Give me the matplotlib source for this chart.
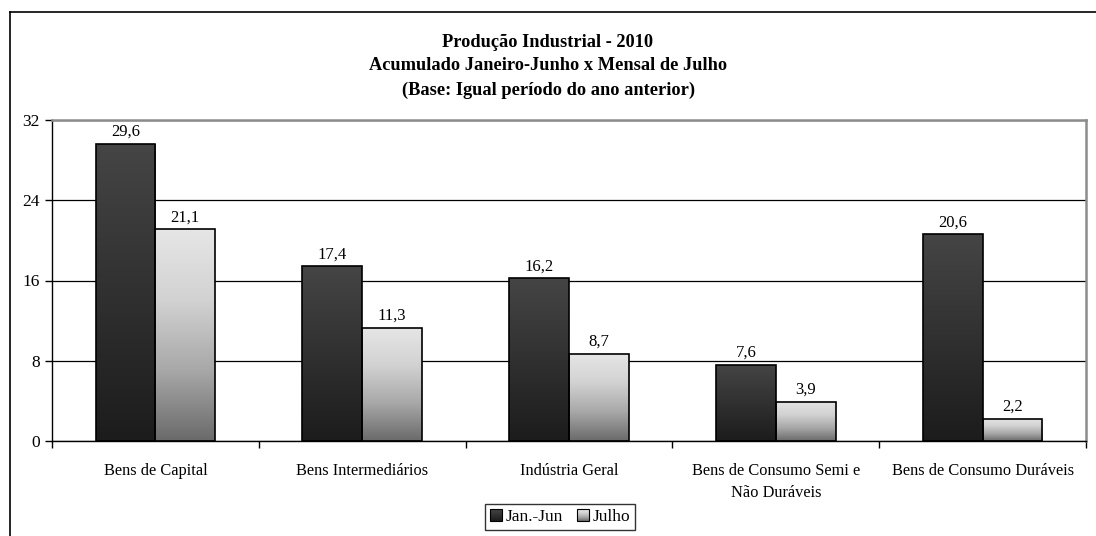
import numpy as np
import matplotlib.pyplot as plt
from matplotlib.patches import Rectangle
from matplotlib.lines import Line2D
from matplotlib.legend_handler import HandlerBase
from matplotlib.colors import LinearSegmentedColormap

plt.rcParams['font.family'] = ['Liberation Serif', 'DejaVu Serif']

categorias = ['Bens de Capital', 'Bens Intermediários', 'Indústria Geral',
              'Bens de Consumo Semi e\nNão Duráveis', 'Bens de Consumo Duráveis']
jan_jun = [29.6, 17.4, 16.2, 7.6, 20.6]
julho = [21.1, 11.3, 8.7, 3.9, 2.2]
series = ['Jan.-Jun', 'Julho']
titulo = ['Produção Industrial - 2010',
          'Acumulado Janeiro-Junho x Mensal de Julho',
          '(Base: Igual período do ano anterior)']
yticks = [0, 8, 16, 24, 32]

# gradientes (topo -> base)
cmap_escuro = LinearSegmentedColormap.from_list('escuro', ['#454545', '#1c1c1c'])
cmap_claro = LinearSegmentedColormap.from_list('claro', ['#e6e6e6', '#d2d2d2', '#a8a8a8', '#6a6a6a'])
cmaps = [cmap_escuro, cmap_claro]


def barras_gradiente(ax, x, valores, largura, cmap):
    barras = ax.bar(x, valores, width=largura, facecolor='none', edgecolor='black',
                    linewidth=1.2, zorder=3)
    grad = np.linspace(0, 1, 256).reshape(-1, 1)
    for b in barras:
        x0, y0 = b.get_x(), b.get_y()
        w, h = b.get_width(), b.get_height()
        im = ax.imshow(grad, cmap=cmap, aspect='auto', origin='upper',
                       extent=[x0, x0 + w, y0, y0 + h], zorder=2)
        im.set_clip_path(b)
    return barras


class HandlerGradiente(HandlerBase):
    def __init__(self, cmap):
        super().__init__()
        self.cmap = cmap

    def create_artists(self, legend, orig_handle, xdescent, ydescent, width, height, fontsize, trans):
        artistas = []
        n = 12
        for i in range(n):
            cor = self.cmap(1 - (i + 0.5) / n)
            artistas.append(Rectangle((-xdescent, -ydescent + height * i / n), width, height / n,
                                      facecolor=cor, edgecolor='none', transform=trans))
        artistas.append(Rectangle((-xdescent, -ydescent), width, height, facecolor='none',
                                  edgecolor='black', linewidth=0.8, transform=trans))
        return artistas


fig = plt.figure(figsize=(10.96, 5.36), dpi=100)
ax = fig.add_axes([52 / 1096, 1 - 441 / 536, 1034 / 1096, 321 / 536])

x = np.arange(len(categorias))
w = 0.289
b1 = barras_gradiente(ax, x - w / 2, jan_jun, w, cmaps[0])
b2 = barras_gradiente(ax, x + w / 2, julho, w, cmaps[1])

for barras, vals in [(b1, jan_jun), (b2, julho)]:
    for b, v in zip(barras, vals):
        ax.annotate(f'{v:.1f}'.replace('.', ','), (b.get_x() + b.get_width() / 2, v),
                    xytext=(0, 3), textcoords='offset points', ha='center', va='bottom',
                    fontsize=12)

ax.set_xlim(-0.5, len(categorias) - 0.5)
ax.set_ylim(0, 32)
ax.set_yticks(yticks)
ax.set_yticklabels([str(t) for t in yticks], fontsize=12.5)
ax.set_xticks(np.arange(len(categorias) + 1) - 0.5)
ax.set_xticklabels([])
ax.set_xticks(x, minor=True)
ax.set_xticklabels(categorias, minor=True, fontsize=11.8, linespacing=1.45,
                   multialignment='center')
ax.tick_params(axis='x', which='minor', length=0, pad=16)
ax.tick_params(axis='x', which='major', length=5, width=1, direction='out')
ax.tick_params(axis='y', length=5, width=1, direction='out', pad=4)

ax.yaxis.grid(True, color='black', linewidth=0.9)
ax.set_axisbelow(True)
for s in ['left', 'bottom']:
    ax.spines[s].set_color('black')
    ax.spines[s].set_linewidth(1.0)
for s in ['top', 'right']:
    ax.spines[s].set_color('#8c8c8c')
    ax.spines[s].set_linewidth(1.8)
ax.spines['top'].set_zorder(4)

for i, linha in enumerate(titulo):
    fig.text(548 / 1096, 1 - (42 + 24 * i) / 536, linha, ha='center', va='center',
             fontsize=13.2, fontweight='bold')

# borda externa do gráfico
fig.add_artist(Line2D([10 / 1096, 1.0], [1 - 12 / 536, 1 - 12 / 536], color='black', linewidth=1.2))
fig.add_artist(Line2D([10 / 1096, 10 / 1096], [0, 1 - 12 / 536], color='black', linewidth=1.2))

h1 = Rectangle((0, 0), 1, 1)
h2 = Rectangle((0, 0), 1, 1)
leg = fig.legend([h1, h2], series, loc='center', bbox_to_anchor=(560 / 1096, 1 - 517 / 536),
                 ncol=2, fontsize=12.5, frameon=True, fancybox=False, shadow=False,
                 handlelength=0.7, handleheight=0.7, handletextpad=0.2, columnspacing=0.8,
                 borderpad=0.3, borderaxespad=0,
                 handler_map={h1: HandlerGradiente(cmaps[0]), h2: HandlerGradiente(cmaps[1])})
leg.get_frame().set_edgecolor('black')
leg.get_frame().set_linewidth(1.0)

fig.savefig('out.png', dpi=100)
